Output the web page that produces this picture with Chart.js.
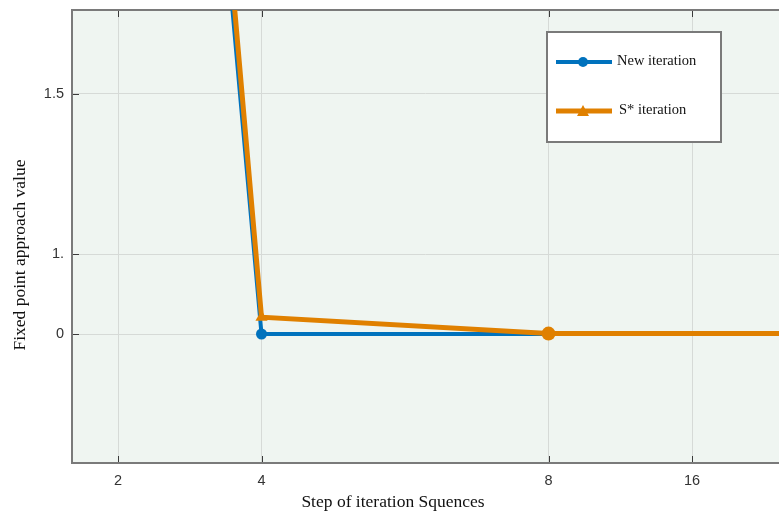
<!DOCTYPE html>
<html>
<head>
<meta charset="utf-8">
<script src="https://cdn.jsdelivr.net/npm/chart.js@4/dist/chart.umd.min.js"></script>
<style>
  html, body { margin: 0; padding: 0; background: #ffffff; }
  #wrap { width: 779px; height: 516px; position: relative; }
</style>
</head>
<body>
<div id="wrap"><canvas id="c" width="779" height="516"></canvas></div>
<script>
// ---- data ----
const stepLabels = ['2', '4', '8', '16'];          // x tick labels
const stepTickPositions = [1, 2, 4, 5];            // where those labels sit on the x axis
const pointPositions = [1, 2, 4, 6];               // x positions of the data points
const newIteration = [20.0, 0, 0, 0];              // New iteration
const sStarIteration = [20.8, 0.21, 0.005, 0.005]; // S* iteration
const yTickLabels = ['0', '1.', '1.5'];            // y tick labels
const yTickPositions = [0, 1, 3];
const xTitle = 'Step of iteration Squences';
const yTitle = 'Fixed point approach value';

const BLUE = '#0072bd';
const ORANGE = '#e08000';
const SERIF = '"Liberation Serif", "Times New Roman", serif';

const bgPlugin = {
  id: 'bg',
  beforeDraw(chart) {
    const { ctx, chartArea: a } = chart;
    ctx.save();
    ctx.fillStyle = '#eff5f1';
    ctx.fillRect(a.left, a.top, a.right - a.left, a.bottom - a.top);
    ctx.restore();
  },
  beforeDatasetsDraw(chart) {
    const { ctx, chartArea: a, scales } = chart;
    ctx.save();
    // inward ticks
    ctx.strokeStyle = '#3a3a3a';
    ctx.lineWidth = 1;
    ctx.beginPath();
    scales.x.ticks.forEach(t => {
      const x = Math.round(scales.x.getPixelForValue(t.value)) + 0.5;
      ctx.moveTo(x, a.bottom); ctx.lineTo(x, a.bottom - 7);
      ctx.moveTo(x, a.top); ctx.lineTo(x, a.top + 7);
    });
    scales.y.ticks.forEach(t => {
      const y = Math.round(scales.y.getPixelForValue(t.value)) + 0.5;
      ctx.moveTo(a.left, y); ctx.lineTo(a.left + 7, y);
    });
    ctx.stroke();
    // box (top, left, bottom)
    ctx.strokeStyle = '#7a7a7a';
    ctx.lineWidth = 2;
    ctx.beginPath();
    ctx.moveTo(a.right + 2, a.top); ctx.lineTo(a.left, a.top);
    ctx.lineTo(a.left, a.bottom); ctx.lineTo(a.right + 2, a.bottom);
    ctx.stroke();
    // axis titles
    ctx.fillStyle = '#111111';
    ctx.font = '17.5px ' + SERIF;
    ctx.textAlign = 'center';
    ctx.textBaseline = 'middle';
    ctx.fillText(xTitle, 393, 502);
    ctx.translate(20, 255);
    ctx.rotate(-Math.PI / 2);
    ctx.fillText(yTitle, 0, 0);
    ctx.restore();
  },
  afterDraw(chart) {
    const { ctx } = chart;
    ctx.save();
    // legend box
    const bx = 547, by = 32, bw = 174, bh = 110;
    ctx.fillStyle = '#ffffff';
    ctx.fillRect(bx, by, bw, bh);
    ctx.strokeStyle = '#7a7a7a';
    ctx.lineWidth = 2;
    ctx.strokeRect(bx, by, bw, bh);
    const items = chart.data.datasets.map((ds, i) => ({
      label: ds.label, color: ds.borderColor, lw: ds.borderWidth,
      style: i === 0 ? 'circle' : 'triangle', y: i === 0 ? 62 : 111
    }));
    items.forEach(it => {
      ctx.strokeStyle = it.color;
      ctx.lineWidth = it.lw;
      ctx.beginPath();
      ctx.moveTo(556, it.y); ctx.lineTo(612, it.y);
      ctx.stroke();
      ctx.fillStyle = it.color;
      ctx.beginPath();
      if (it.style === 'circle') {
        ctx.arc(583, it.y, 5, 0, Math.PI * 2);
      } else {
        ctx.moveTo(583, it.y - 6); ctx.lineTo(589, it.y + 5); ctx.lineTo(577, it.y + 5); ctx.closePath();
      }
      ctx.fill();
      ctx.fillStyle = '#111111';
      ctx.font = '14.5px ' + SERIF;
      ctx.textBaseline = 'middle';
      ctx.textAlign = 'left';
      ctx.fillText(it.label, it.style === 'circle' ? 617 : 619, it.y - 1);
    });
    ctx.restore();
  }
};

const toPoints = (vals) => vals.map((v, i) => ({ x: pointPositions[i], y: v }));
const noPad = (s) => { s.paddingTop = 0; s.paddingBottom = 0; s.paddingLeft = 0; s.paddingRight = 0; };

new Chart(document.getElementById('c'), {
  type: 'line',
  data: {
    datasets: [
      {
        label: 'New iteration',
        data: toPoints(newIteration),
        borderColor: BLUE,
        backgroundColor: BLUE,
        borderWidth: 4,
        pointStyle: 'circle',
        pointRadius: 5.5,
        pointBorderWidth: 0,
        tension: 0,
        clip: 0,
        order: 2
      },
      {
        label: 'S* iteration',
        data: toPoints(sStarIteration),
        borderColor: ORANGE,
        backgroundColor: ORANGE,
        borderWidth: 5,
        pointStyle: ['circle', 'triangle', 'circle', 'circle'],
        pointRadius: 7,
        pointBorderWidth: 0,
        tension: 0,
        clip: 0,
        order: 1
      }
    ]
  },
  options: {
    responsive: false,
    animation: false,
    devicePixelRatio: 1,
    layout: { autoPadding: false, padding: { top: 10, left: 0, right: 0, bottom: 0 } },
    plugins: { legend: { display: false }, tooltip: { enabled: false } },
    scales: {
      x: {
        type: 'linear',
        min: 0.6794,
        max: 5.606,
        afterBuildTicks: (s) => { s.ticks = stepTickPositions.map(v => ({ value: v })); },
        afterFit: (s) => { s.height = 53; noPad(s); },
        ticks: {
          callback: (v) => stepLabels[stepTickPositions.indexOf(v)],
          font: { family: '"Liberation Sans", Arial, sans-serif', size: 14.5 },
          color: '#333333',
          padding: 9,
          maxRotation: 0
        },
        grid: { color: '#d6dad7', lineWidth: 1, drawTicks: false },
        border: { display: false },
        title: { display: false, text: xTitle }
      },
      y: {
        type: 'linear',
        min: -1.6125,
        max: 4.05,
        afterBuildTicks: (s) => { s.ticks = yTickPositions.map(v => ({ value: v })); },
        afterFit: (s) => { s.width = 72; noPad(s); },
        ticks: {
          callback: (v) => yTickLabels[yTickPositions.indexOf(v)],
          font: { family: '"Liberation Sans", Arial, sans-serif', size: 14.5 },
          color: '#333333',
          padding: 8
        },
        grid: { color: '#d6dad7', lineWidth: 1, drawTicks: false },
        border: { display: false },
        title: { display: false, text: yTitle }
      }
    }
  },
  plugins: [bgPlugin]
});
</script>
</body>
</html>
